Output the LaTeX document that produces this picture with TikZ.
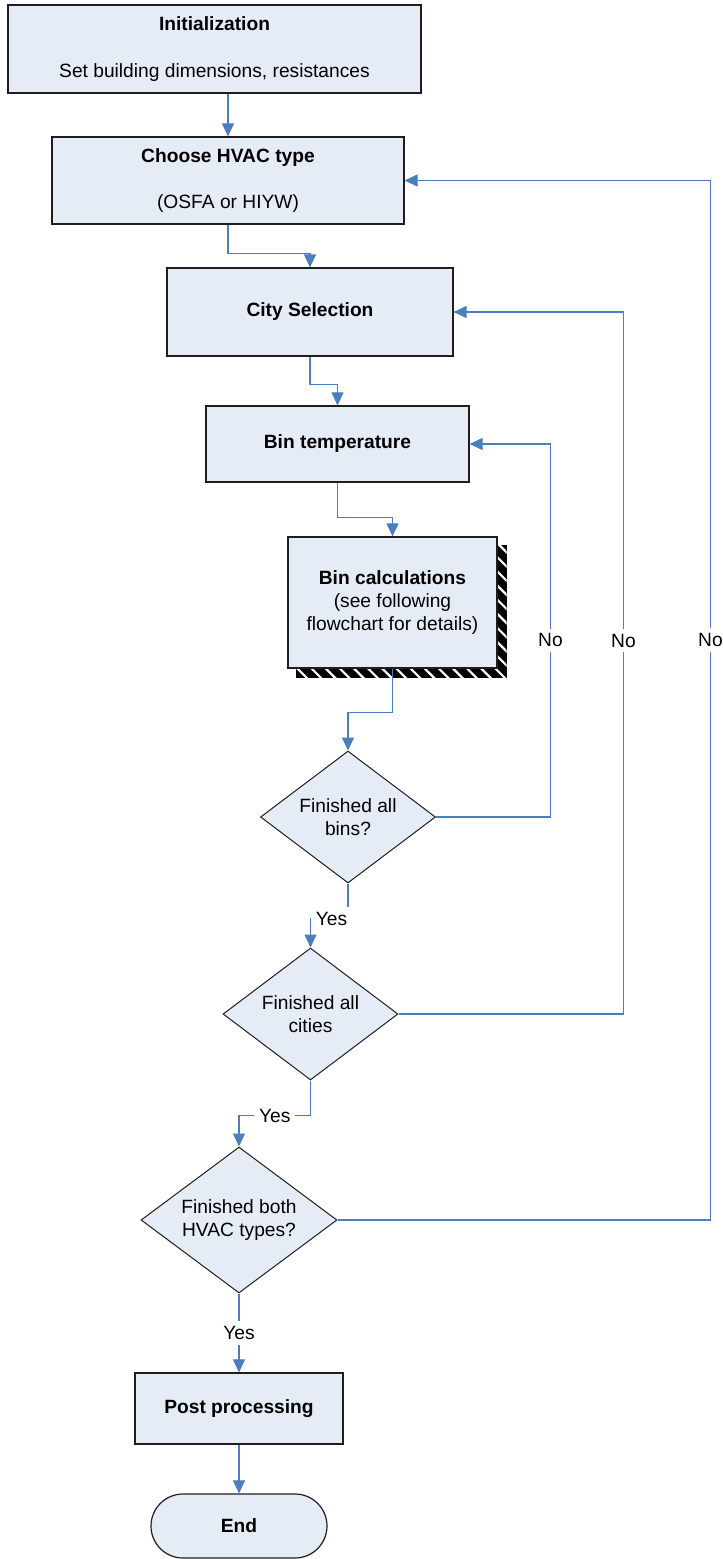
\documentclass[tikz,border=0pt]{standalone}
\usepackage{fontspec}
\setmainfont{Liberation Sans}
\usepackage{tikz}
\usetikzlibrary{shapes.geometric, arrows.meta, calc, backgrounds, patterns.meta}
\definecolor{FCFill}{RGB}{230,236,246}
\definecolor{FCLine}{RGB}{74,126,190}
\definecolor{FCEdge}{RGB}{30,30,30}

\begin{document}
\begin{tikzpicture}[x=0.5pt, y=-0.5pt,
      font=\fontsize{9.6}{11.6}\selectfont,
      pbox/.style={rectangle, draw=FCEdge, line width=0.6pt, fill=FCFill,
                   align=center, inner sep=0pt},
      dbox/.style={diamond, draw=FCEdge, line width=0.5pt, fill=FCFill,
                   align=center, inner sep=0pt, shape aspect=1.33},
      tbox/.style={pbox, rounded corners=16pt},
      arr/.style={-{Triangle[length=6.5pt, width=6pt]}, draw=FCLine, line width=0.55pt},
      lbl/.style={fill=white, inner sep=2.5pt}
    ]
    \useasboundingbox (0,0) rectangle (723,1559);

    \node[pbox, minimum width=206.5pt, minimum height=44pt] (init) at (214.5, 49)
          {\textbf{Initialization}\\[12pt]Set building dimensions, resistances};
    \node[pbox, minimum width=176pt, minimum height=43.5pt] (hvac) at (228, 180.5)
          {\textbf{Choose HVAC type}\\[11.5pt](OSFA or HIYW)};
    \node[pbox, minimum width=143pt, minimum height=44pt]   (city) at (310, 312)
          {\textbf{City Selection}};
    \node[pbox, minimum width=131.5pt, minimum height=38pt] (bintemp) at (337.5, 444)
          {\textbf{Bin temperature}};
    \node[pbox, minimum width=104.5pt, minimum height=65.5pt] (bincalc) at (392.5, 602.5)
          {\textbf{Bin calculations}\\(see following\\flowchart for details)};

    \node[dbox, minimum width=87.5pt, minimum height=66pt] (finbins) at (348, 817)
          {Finished all\\bins?};
    \node[dbox, minimum width=87.5pt, minimum height=66pt] (fincity) at (310.5, 1014)
          {Finished all\\cities};
    \node[dbox, minimum width=98pt, minimum height=73pt, shape aspect=1.34] (finhvac) at (239, 1220)
          {Finished both\\HVAC types?};

    \node[pbox, minimum width=104pt, minimum height=35.5pt] (post) at (239, 1408.5)
          {\textbf{Post processing}};
    \node[tbox, minimum width=88pt, minimum height=32pt] (end) at (239, 1526)
          {\textbf{End}};

    % hatched shadow behind the bin calculation box
    \begin{pgfonlayer}{background}
      \fill[black] ($(bincalc.south west)+(9,9)$) rectangle ($(bincalc.north east)+(9,9)$);
      \fill[pattern={Lines[angle=-45, distance=5pt, line width=1.1pt]}, pattern color=white]
           ($(bincalc.south west)+(9,9)$) rectangle ($(bincalc.north east)+(9,9)$);
    \end{pgfonlayer}

    \draw[arr] (init.south -| hvac.north) -- (hvac.north);
    \draw[arr] (hvac.south) -- ++(0,29) -| (city.north);
    \draw[arr] (city.south) -- ++(0,28) -| (bintemp.north);
    \draw[arr] (bintemp.south) -- ++(0,35) -| (bincalc.north);
    \draw[arr] (bincalc.south) -- ++(0,44) -| (finbins.north);
    \draw[arr] (finbins.south) -- ++(0,35) -| node[lbl, pos=0.22] {Yes} (fincity.north);
    \draw[arr] (fincity.south) -- ++(0,35) -| node[lbl, pos=0.25] {Yes} (finhvac.north);
    \draw[arr] (finhvac.south) -- node[lbl] {Yes} (post.north);
    \draw[arr] (post.south) -- (end.north);

    % loops back
    \draw[arr] (finbins.east) -- ++(114.5,0) |- node[lbl, pos=0.237] {No} (bintemp.east);
    \draw[arr] (fincity.east) -- ++(225,0)   |- node[lbl, pos=0.266] {No} (city.east);
    \draw[arr] (finhvac.east) -- ++(373,0)   |- node[lbl, pos=0.279] {No} (hvac.east);
  \end{tikzpicture}
\end{document}
